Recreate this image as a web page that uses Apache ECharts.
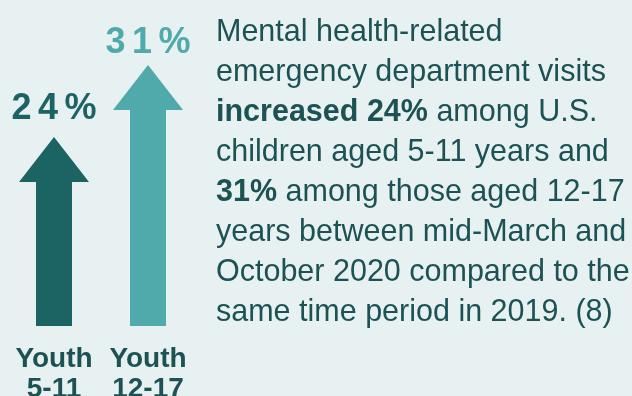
<!DOCTYPE html>
<html><head><meta charset="utf-8">
<script src="https://cdn.jsdelivr.net/npm/echarts@6/dist/echarts.min.js"></script>
<style>html,body{margin:0;padding:0;background:#e8f1f2;}#c{width:632px;height:396px;}</style>
</head><body><div id="c"></div>
<script>
var categories = ['Youth\n5-11', 'Youth\n12-17'];
var values = [24, 31];
var valueLabels = ['24%', '31%'];
var colors = ['#1b6463', '#50aaab'];
var labelGaps = [10, 4];
var textLines = [
  'Mental health-related',
  'emergency department visits',
  '{b|increased 24%} among U.S.',
  'children aged 5-11 years and',
  '{b|31%} among those aged 12-17',
  'years between mid-March and',
  'October 2020 compared to the',
  'same time period in 2019. (8)'
];
var FONT = '"Liberation Sans", Arial, sans-serif';
var LABEL_FONT = 'bold 36px ' + FONT;
var LETTER_SP = 6.5;
var TEXTC = '#1d5254';
var mctx = document.createElement('canvas').getContext('2d');
mctx.font = LABEL_FONT;
function spacedText(str, cx, bottomY, fill) {
  var chars = str.split('');
  var widths = chars.map(function (ch) { return mctx.measureText(ch).width; });
  var total = widths.reduce(function (a, b) { return a + b; }, 0) + LETTER_SP * (chars.length - 1);
  var x = cx - total / 2;
  return chars.map(function (ch, k) {
    var el = {type: 'text', x: x, y: bottomY, style: {
      text: ch, fill: fill, font: LABEL_FONT, textAlign: 'left', textVerticalAlign: 'bottom'
    }};
    x += widths[k] + LETTER_SP;
    return el;
  });
}
var chart = echarts.init(document.getElementById('c'), null, {renderer: 'canvas'});
var yMin = 5.6;
chart.setOption({
  backgroundColor: '#e8f1f2',
  animation: false,
  grid: {left: 7, width: 188, top: 24, bottom: 70, containLabel: false, outerBoundsMode: 'none'},
  xAxis: {
    type: 'category', data: categories,
    axisLine: {show: false}, axisTick: {show: false},
    axisLabel: {fontFamily: FONT, fontWeight: 'bold', fontSize: 28, lineHeight: 30, color: TEXTC, margin: 18, interval: 0}
  },
  yAxis: {type: 'value', min: yMin, max: 35, show: false, splitLine: {show: false}},
  series: [{
    type: 'custom',
    data: values.map(function (v, i) { return [i, v]; }),
    renderItem: function (params, api) {
      var i = api.value(0);
      var tip = api.coord([i, api.value(1)]);
      var base = api.coord([i, yMin]);
      var cx = tip[0];
      var headH = 45, headW = 70, shaftW = 36;
      var c = colors[params.dataIndex];
      var children = [
        {type: 'polygon', shape: {points: [
          [cx, tip[1]], [cx + headW / 2, tip[1] + headH], [cx + shaftW / 2, tip[1] + headH],
          [cx + shaftW / 2, base[1]], [cx - shaftW / 2, base[1]], [cx - shaftW / 2, tip[1] + headH],
          [cx - headW / 2, tip[1] + headH]
        ]}, style: {fill: c}}
      ].concat(spacedText(valueLabels[params.dataIndex], cx, tip[1] - labelGaps[params.dataIndex], c));
      return {type: 'group', children: children};
    }
  }],
  graphic: [{
    type: 'text', left: 216, top: 13,
    style: {
      text: textLines.join('\n'),
      fill: TEXTC, fontFamily: FONT, fontSize: 30.5, lineHeight: 40,
      rich: {b: {fontFamily: FONT, fontSize: 30.5, fontWeight: 'bold', lineHeight: 40, fill: TEXTC}}
    }
  }]
});
</script></body></html>
